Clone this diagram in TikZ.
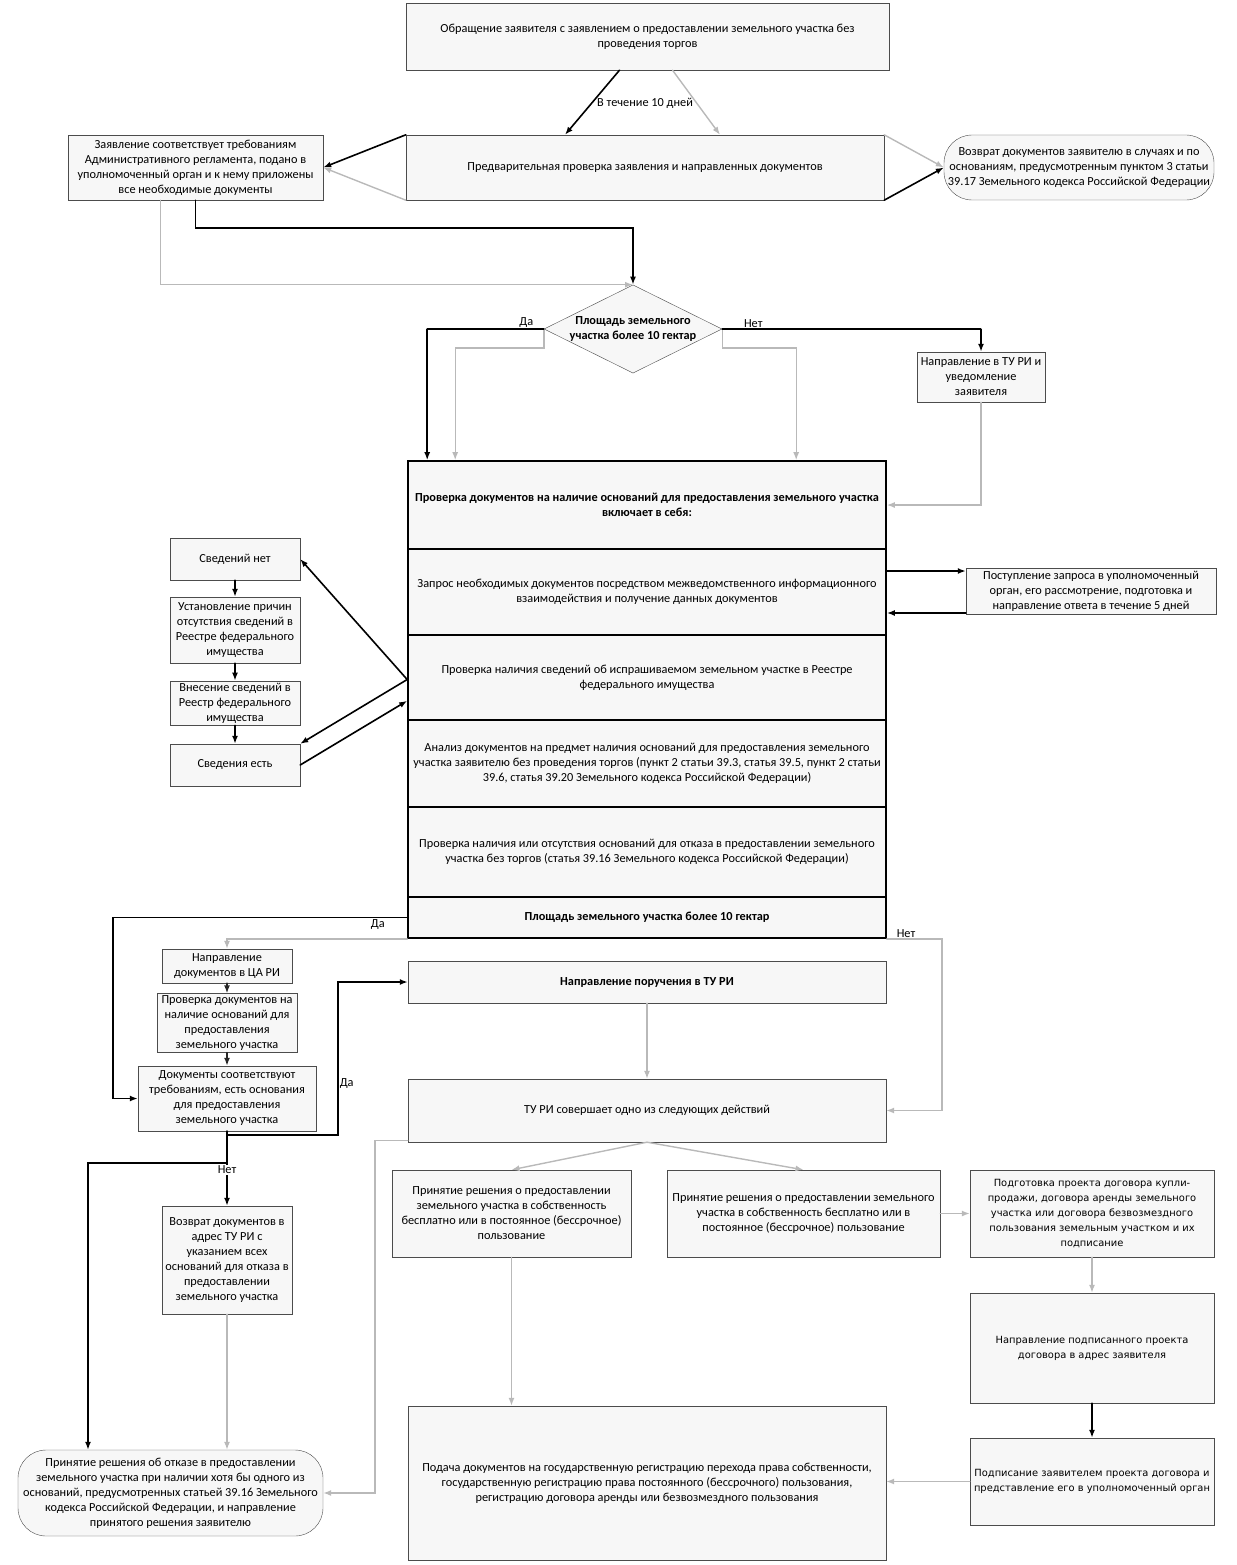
\documentclass[tikz,border=0pt]{standalone}
\usepackage{fontspec}
\setmainfont{Carlito}
\newfontfamily\widefont{DejaVu Sans}
\usetikzlibrary{arrows.meta, shapes.geometric, calc}

\newcommand{\plainsize}{\fontsize{12.3}{15}\selectfont}

\begin{document}
\begin{tikzpicture}[%
        x = 1pt,
        y = -1pt,
        line cap = round,
        > = {Latex[length = 8pt, width = 6pt]},
        box/.style = {draw = gray!60!black, fill = gray!6, align = center, inner sep = 2pt, font = \plainsize},
        heavy/.style = {box, font = \plainsize\bfseries},
        wide/.style = {box, inner sep = 1pt, font = \widefont\fontsize{9.9}{15}\selectfont},
        pill/.style = {box, rounded corners = 28pt},
        section/.style = {box, draw = black, line width = 1.6pt, minimum width = 478pt},
        tag/.style = {font = \plainsize, inner sep = 1pt},
        strong/.style = {->, draw = black, line width = 1.6pt},
        faint/.style = {->, draw = gray!55, line width = 1.4pt}
    ]

        \useasboundingbox (0, 0) rectangle (1236, 1565);

        % Application and the preliminary check.
        \node[box, minimum width = 483pt, minimum height = 67pt] (appl) at (647.5, 36.5)
            {Обращение заявителя с заявлением о предоставлении земельного участка без\\проведения торгов};
        \node[box, minimum width = 478pt, minimum height = 65pt] (prelim) at (645, 167.5)
            {Предварительная проверка заявления и направленных документов};
        \node[box, minimum width = 255pt, minimum height = 65pt] (meets) at (195.5, 167.5)
            {Заявление соответствует требованиям\\Административного регламента, подано в\\уполномоченный орган и к нему приложены\\все необходимые документы};
        \node[pill, minimum width = 270pt, minimum height = 65pt] (ret) at (1079, 167.5)
            {Возврат документов заявителю в случаях и по\\основаниям, предусмотренным пунктом 3 статьи\\39.17 Земельного кодекса Российской Федерации};

        % First question on the area.
        \node[heavy, shape = diamond, aspect = 2, inner sep = 0pt,
            minimum width = 178pt, minimum height = 87pt] (area) at (633, 329)
            {Площадь земельного\\участка более 10 гектар};
        \node[box, minimum width = 128pt, minimum height = 50pt] (tu) at (981, 377)
            {Направление в ТУ РИ и\\уведомление\\заявителя};

        % The large block of checks.
        \node[section, font = \plainsize\bfseries, minimum height = 88pt] (sec1) at (647, 505)
            {Проверка документов на наличие оснований для предоставления земельного участка\\включает в себя:};
        \node[section, minimum height = 86pt] (sec2) at (647, 592)
            {Запрос необходимых документов посредством межведомственного информационного\\взаимодействия и получение данных документов};
        \node[section, minimum height = 85pt] (sec3) at (647, 677.5)
            {Проверка наличия сведений об испрашиваемом земельном участке в Реестре\\федерального имущества};
        \node[section, minimum height = 87pt] (sec4) at (647, 763.5)
            {Анализ документов на предмет наличия оснований для предоставления земельного\\участка заявителю без проведения торгов (пункт 2 статьи 39.3, статья 39.5, пункт 2 статьи\\39.6, статья 39.20 Земельного кодекса Российской Федерации)};
        \node[section, minimum height = 90pt] (sec5) at (647, 852)
            {Проверка наличия или отсутствия оснований для отказа в предоставлении земельного\\участка без торгов (статья 39.16 Земельного кодекса Российской Федерации)};
        \node[section, font = \plainsize\bfseries, minimum height = 41pt] (sec6) at (647, 917.5)
            {Площадь земельного участка более 10 гектар};
        \node[box, minimum width = 250pt, minimum height = 46pt] (resp) at (1091, 591)
            {Поступление запроса в уполномоченный\\орган, его рассмотрение, подготовка и\\направление ответа в течение 5 дней};

        % Column on the federal property register.
        \node[box, minimum width = 130pt, minimum height = 42pt] (nodata) at (235, 559) {Сведений нет};
        \node[box, minimum width = 130pt, minimum height = 66pt] (cause) at (235, 630)
            {Установление причин\\отсутствия сведений в\\Реестре федерального\\имущества};
        \node[box, minimum width = 130pt, minimum height = 42pt] (enter) at (235, 703)
            {Внесение сведений в\\Реестр федерального\\имущества};
        \node[box, minimum width = 130pt, minimum height = 42pt] (hasdata) at (235, 765) {Сведения есть};

        % Branch through the central office.
        \node[box, minimum width = 130pt, minimum height = 34pt] (ca) at (227, 966)
            {Направление\\документов в ЦА РИ};
        \node[box, minimum width = 140pt, minimum height = 58pt] (check) at (227, 1023)
            {Проверка документов на\\наличие оснований для\\предоставления\\земельного участка};
        \node[box, minimum width = 178pt, minimum height = 65pt] (ok) at (227, 1098.5)
            {Документы соответствуют\\требованиям, есть основания\\для предоставления\\земельного участка};
        \node[box, minimum width = 130pt, minimum height = 108pt] (back) at (227, 1260)
            {Возврат документов в\\адрес ТУ РИ с\\указанием всех\\оснований для отказа в\\предоставлении\\земельного участка};
        \node[pill, minimum width = 305pt, minimum height = 86pt] (refuse) at (170.5, 1493)
            {Принятие решения об отказе в предоставлении\\земельного участка при наличии хотя бы одного из\\оснований, предусмотренных статьей 39.16 Земельного\\кодекса Российской Федерации, и направление\\принятого решения заявителю};

        % Branch through the territorial office.
        \node[heavy, minimum width = 478pt, minimum height = 42pt] (order) at (647, 982)
            {Направление поручения в ТУ РИ};
        \node[box, minimum width = 478pt, minimum height = 63pt] (act) at (647, 1110.5)
            {ТУ РИ совершает одно из следующих действий};
        \node[box, minimum width = 239pt, minimum height = 87pt] (dec1) at (511.5, 1213.5)
            {Принятие решения о предоставлении\\земельного участка в собственность\\бесплатно или в постоянное (бессрочное)\\пользование};
        \node[box, minimum width = 273pt, minimum height = 87pt] (dec2) at (803.5, 1213.5)
            {Принятие решения о предоставлении земельного\\участка в собственность бесплатно или в\\постоянное (бессрочное) пользование};
        \node[wide, minimum width = 244pt, minimum height = 87pt] (draft) at (1092, 1213.5)
            {Подготовка проекта договора купли-\\продажи, договора аренды земельного\\участка или договора безвозмездного\\пользования земельным участком и их\\подписание};
        \node[wide, minimum width = 244pt, minimum height = 110pt] (send) at (1092, 1348)
            {Направление подписанного проекта\\договора в адрес заявителя};
        \node[wide, minimum width = 244pt, minimum height = 87pt] (sign) at (1092, 1481.5)
            {Подписание заявителем проекта договора и\\представление его в уполномоченный орган};
        \node[box, minimum width = 478pt, minimum height = 154pt] (reg) at (647, 1483)
            {Подача документов на государственную регистрацию перехода права собственности,\\государственную регистрацию права постоянного (бессрочного) пользования,\\регистрацию договора аренды или безвозмездного пользования};

        % Arrows of the upper part.
        \draw[strong] ($(appl.south)+(-28, 0)$) to ($(prelim.north)+(-80, 0)$);
        \draw[faint] ($(appl.south)+(25, 0)$) to ($(prelim.north)+(75, 0)$);
        \node[tag] (days) at (645, 103) {В течение 10 дней};
        \draw[strong] (prelim.north west) to (meets.east);
        \draw[faint] (prelim.south west) to (meets.east);
        \draw[faint] (prelim.north east) to (ret.west);
        \draw[strong] (prelim.south east) to (ret.west);
        \draw[faint] ($(meets.south)+(-35, 0)$) |- (area.north);
        \draw[strong] (meets.south) -- ++(0, 28) -| (area.north);

        % Answers of the diamond.
        \draw[faint] (area.west) -- ++(0, 19) -| ($(sec1.north west)+(48, 0)$);
        \draw[strong] (area.west) -- node[tag, pos = 0.15, above] {Да} ++(-117, 0)
            -| ($(sec1.north west)+(20, 0)$);
        \draw[faint] (area.east) -- ++(0, 19) -| ($(sec1.north west)+(389, 0)$);
        \draw[strong] (area.east) -- node[tag, pos = 0.12, above] {Нет} ++(259, 0) -| (tu.north);
        \draw[faint] (tu.south) |- (sec1.east);

        % Request and answer.
        \draw[strong] (sec2.east |- 0, 571) to (resp.west |- 0, 571);
        \draw[strong] (resp.west |- 0, 613) to (sec2.east |- 0, 613);

        % Register column.
        \draw[strong] ($(sec3.west)+(0, 2)$) to (nodata.east);
        \draw[strong] ($(sec3.west)+(0, 2)$) to (hasdata.north east);
        \draw[strong] (hasdata.east) to ($(sec3.south west)+(0, -20)$);
        \draw[strong] (nodata) to (cause);
        \draw[strong] (cause) to (enter);
        \draw[strong] (enter) to (hasdata);

        % Second question on the area.
        \draw[strong] (sec6.west) -- node[tag, pos = 0.1, below] {Да} ++(-294, 0) |- (ok.west);
        \draw[faint] (sec6.south west) -| (ca.north);
        \draw[faint] (sec6.south east) -- node[tag, pos = 0.35, above] {Нет} ++(55, 0) |- (act.east);
        \begin{scope}[strong, draw = gray!30!black]
            \draw (ca) to (check);
            \draw (check) to (ok);
        \end{scope}
        \draw[strong] (ok.south) -- ++(0, 4) -- ++(111, 0)
            |- node[tag, pos = 0.17, right] {Да} (order.west);
        \draw[strong] (ok.south) to node[tag, fill = white, pos = 0.52] {Нет} (back.north);
        \draw[strong] ($(ok.south)+(0, 32)$) -| ($(refuse.north)+(-82.5, 0)$);
        \draw[faint] (back.south) to (back.south |- refuse.north);

        % Territorial office actions.
        \draw[faint] (order.south) to (act.north);
        \draw[faint] ($(act.south west)+(0, -2)$) -- ++(-33, 0) |- (refuse.east);
        \draw[faint] (act.south) to (dec1.north);
        \draw[faint] (act.south) to (dec2.north);
        \draw[faint] (dec1.south) to (dec1.south |- reg.north);
        \draw[faint] (dec2.east) to (draft.west);
        \draw[faint] (draft.south) to (send.north);
        \draw[strong] (send.south) to (sign.north);
        \draw[faint] (sign.west) to (sign.west -| reg.east);
    \end{tikzpicture}
\end{document}
